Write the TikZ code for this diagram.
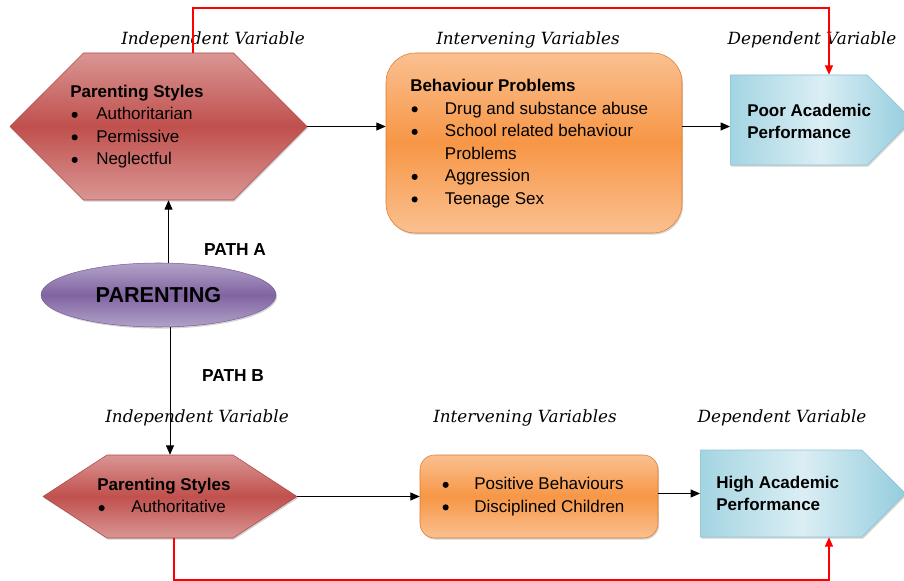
\documentclass[tikz,border=0pt]{standalone}
\usepackage{fontspec}
\setmainfont{Liberation Sans}
\newfontfamily\varfont{DejaVu Serif}
\usetikzlibrary{shapes.symbols,shapes.geometric,arrows.meta,shadows,calc}

\definecolor{hexlight}{HTML}{D99694}
\definecolor{hexdark}{HTML}{C0504D}
\definecolor{hexline}{HTML}{B04744}
\definecolor{orglight}{HTML}{FAC090}
\definecolor{orgdark}{HTML}{F79646}
\definecolor{orgline}{HTML}{E07A28}
\definecolor{bluelight}{HTML}{DBEEF4}
\definecolor{bluedark}{HTML}{93CDDD}
\definecolor{blueline}{HTML}{8CC4D4}
\definecolor{purplight}{HTML}{B3A2C7}
\definecolor{purpdark}{HTML}{8064A2}
\definecolor{purpline}{HTML}{7A5F9C}

\newcommand{\itm}[2][19.5pt]{\makebox[#1][l]{\hspace{1pt}\tikz[baseline=-3.6pt]\fill[black] (0,0) circle (2.3pt);}#2}

\tikzset{
  shad/.style={drop shadow={shadow xshift=0.8pt,shadow yshift=-1.2pt,opacity=.35}},
  hexbox/.style={shape=signal,signal to=east and west,draw=hexline,shad,
    top color=hexlight,bottom color=hexlight,middle color=hexdark,inner sep=0pt},
  orgbox/.style={rectangle,draw=orgline,shad,
    top color=orglight,bottom color=orglight,middle color=orgdark,inner sep=0pt},
  bluebox/.style={shape=signal,signal to=east,draw=blueline,shad,
    left color=bluedark!85,right color=bluedark,middle color=bluelight,inner sep=0pt},
  parbox/.style={ellipse,draw=purpline,shad,
    top color=purplight,bottom color=purplight,middle color=purpdark,inner sep=0pt},
  txt/.style={inner sep=0pt,align=left,font=\fontsize{12.75pt}{16.9pt}\selectfont},
  var/.style={font=\varfont\itshape\fontsize{12.6pt}{15pt}\selectfont},
  path/.style={font=\bfseries\fontsize{13pt}{15pt}\selectfont},
  arr/.style={black,line width=0.6pt,-{Triangle[length=7pt,width=6pt]}},
  fb/.style={red,line width=0.8pt,-{Triangle[length=7pt,width=6pt]}}
}

\begin{document}
\begin{tikzpicture}[x=0.75pt,y=-0.75pt]
  \useasboundingbox (0,0) rectangle (904,581);
  % path A
  \node (styA) [hexbox,minimum width=222.75pt,minimum height=110.25pt] at (158.5,126.5) {};
  \node (behA) [orgbox,rounded corners=22pt,minimum width=222pt,minimum height=135pt] at (534,143) {};
  \node (poorA) [bluebox,minimum width=136.5pt,minimum height=67.5pt,anchor=west] at (730,120) {};
  \node (styAtxt) [txt,anchor=west] at (70,126.5) {\textbf{Parenting Styles}\\ \itm{Authoritarian}\\ \itm{Permissive}\\ \itm{Neglectful}};
  \node (behAtxt) [txt,anchor=west] at (410,143.5) {\textbf{Behaviour Problems}\\ \itm[26pt]{Drug and substance abuse}\\ \itm[26pt]{School related behaviour}\\ \hspace*{26pt}Problems\\ \itm[26pt]{Aggression}\\ \itm[26pt]{Teenage Sex}};
  \node (poorAtxt) [txt,anchor=west,font=\bfseries\fontsize{12.75pt}{16.9pt}\selectfont] at (747,121.5) {Poor Academic\\ Performance};
  \node (indA) [var] at (213,40) {Independent Variable};
  \node (intA) [var] at (528,40) {Intervening Variables};
  \node (depA) [var] at (812,40) {Dependent Variable};
  \node (pathA) [path] at (235,250) {PATH A};
  % parenting
  \node (par) [parbox,minimum width=176.25pt,minimum height=48pt] at (158.5,295) {\bfseries\fontsize{16.2pt}{18pt}\selectfont PARENTING};
  % path B
  \node (styB) [hexbox,signal pointer angle=66,minimum width=190.5pt,minimum height=62.25pt] at (170,496.5) {};
  \node (posB) [orgbox,rounded corners=11pt,minimum width=178.5pt,minimum height=62.25pt] at (539,496.5) {};
  \node (highB) [bluebox,minimum width=154pt,minimum height=65.25pt,anchor=west] at (700,493.5) {};
  \node (styBtxt) [txt,anchor=west] at (97,495.5) {\textbf{Parenting Styles}\\ \itm[25.5pt]{Authoritative}};
  \node (posBtxt) [txt,anchor=west] at (441,496.5) {\itm[24.75pt]{Positive Behaviours}\\ \itm[24.75pt]{Disciplined Children}};
  \node (highBtxt) [txt,anchor=west,font=\bfseries\fontsize{12.75pt}{16.9pt}\selectfont] at (716,493.5) {High Academic\\ Performance};
  \node (indB) [var] at (197,418) {Independent Variable};
  \node (intB) [var] at (525,418) {Intervening Variables};
  \node (depB) [var] at (782,418) {Dependent Variable};
  \node (pathB) [path] at (233,376) {PATH B};
  \coordinate (topA) at (829,8);
  \coordinate (botB) at (829,580);
  % connectors
  \draw[arr] (styA.east) -- (styA.east -| behA.west);
  \draw[arr] (styA.east -| behA.east) -- (styA.east -| poorA.west);
  \draw[arr] ([xshift=7.5pt]par.north) -- ([xshift=7.5pt]styA.south);
  \draw[arr] (par.south -| styB.north) -- (styB.north);
  \draw[arr] (styB.east) -- (posB.west);
  \draw[arr] (posB.east |- highB.west) -- (highB.west);
  \draw[fb] ($(styA.north)+(34.5,0)$) |- (topA) -- (topA |- poorA.north);
  \draw[fb] ($(styB.south)+(4,0)$) |- (botB) -- (botB |- highB.south);
\end{tikzpicture}
\end{document}
